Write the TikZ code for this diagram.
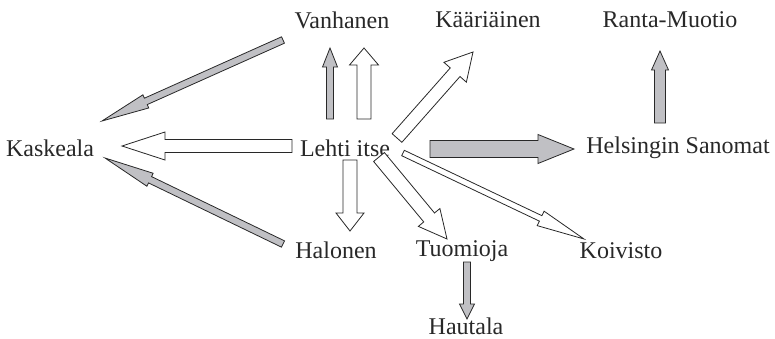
\documentclass[tikz,border=0pt]{standalone}
\usepackage{fontspec}
\setmainfont{Liberation Serif}
\usetikzlibrary{calc,positioning}

\definecolor{arrowgray}{RGB}{192,192,196}
\definecolor{inkgray}{RGB}{40,40,40}

% block arrow: [fill]{from}{to}{shaft half width}{head half width}{head length}
\newcommand{\fatarrow}[6][white]{%
  \coordinate (fa-base) at ($(#3)!#6!(#2)$);
  \draw[blockline, fill=#1] ($(#2)!#4!90:(#3)$) -- ($(fa-base)!#4!90:(#3)$)
        -- ($(fa-base)!#5!90:(#3)$) -- (#3) -- ($(fa-base)!#5!-90:(#3)$)
        -- ($(fa-base)!#4!-90:(#3)$) -- ($(#2)!#4!-90:(#3)$) -- cycle;
}

\begin{document}
\begin{tikzpicture}[x=0.5pt, y=-0.5pt,
    person/.style={text=inkgray, font=\fontsize{12}{14}\selectfont, inner sep=0pt},
    blockline/.style={draw=inkgray, line width=0.4pt, line join=miter}]

  \useasboundingbox (0,0) rectangle (775,338);

  \node[person] (lehti)    at (345,148) {Lehti itse};
  \node[person] (vanhanen) at (342,20)  {Vanhanen};
  \node[person] (kaari)    at (488,20)  {Kääriäinen};
  \node[person] (ranta)    at (670,20)  {Ranta-Muotio};
  \node[person] (kaskeala) at (50,148)  {Kaskeala};
  \node[person] (hs)       at (678,148) {Helsingin Sanomat};
  \node[person] (halonen)  at (336,250) {Halonen};
  \node[person] (tuomioja) at (462,251) {Tuomioja};
  \node[person] (koivisto) at (621,251) {Koivisto};
  \node[person] (hautala)  at (466,326) {Hautala};

  % arrow ends
  \coordinate (v-out)  at (283,40);   \coordinate (k-in1) at (102,121);
  \coordinate (h-out)  at (283,244);  \coordinate (k-in2) at (105,158);
  \coordinate (l-v1)   at (330,119);  \coordinate (v-in1) at (330,48);
  \coordinate (l-v2)   at (364,119);  \coordinate (v-in2) at (364,48);
  \coordinate (l-k)    at (292,146);  \coordinate (k-in3) at (122,146);
  \coordinate (l-ka)   at (397,138);  \coordinate (ka-in) at (473,52);
  \coordinate (l-hs)   at (430,149);  \coordinate (hs-in) at (574,149);
  \coordinate (hs-out) at (660,123);  \coordinate (r-in)  at (660,51);
  \coordinate (l-ha)   at (350,160);  \coordinate (ha-in) at (350,231);
  \coordinate (l-t)    at (379,157);  \coordinate (t-in)  at (447,239);
  \coordinate (l-ko)   at (403,153);  \coordinate (ko-in) at (584,239);
  \coordinate (t-out)  at (467,262);  \coordinate (hau-in) at (467,319);

  \fatarrow[arrowgray]{v-out}{k-in1}{1.75pt}{3.6pt}{24pt}
  \fatarrow[arrowgray]{h-out}{k-in2}{1.75pt}{3.6pt}{25pt}
  \fatarrow[arrowgray]{l-v1}{v-in1}{1.75pt}{3.75pt}{9.5pt}
  \fatarrow{l-v2}{v-in2}{3.5pt}{7.25pt}{8.5pt}
  \fatarrow{l-k}{k-in3}{3.25pt}{7pt}{21.5pt}
  \fatarrow{l-ka}{ka-in}{3.25pt}{7.5pt}{13.5pt}
  \fatarrow[arrowgray]{l-hs}{hs-in}{4.25pt}{7.25pt}{18pt}
  \fatarrow[arrowgray]{hs-out}{r-in}{2.75pt}{4.25pt}{9.5pt}
  \fatarrow{l-ha}{ha-in}{3.5pt}{7pt}{9pt}
  \fatarrow{l-t}{t-in}{3.5pt}{7pt}{14pt}
  \fatarrow{l-ko}{ko-in}{1.5pt}{4pt}{24pt}
  \fatarrow[arrowgray]{t-out}{hau-in}{1.75pt}{3.75pt}{7.5pt}
\end{tikzpicture}
\end{document}
